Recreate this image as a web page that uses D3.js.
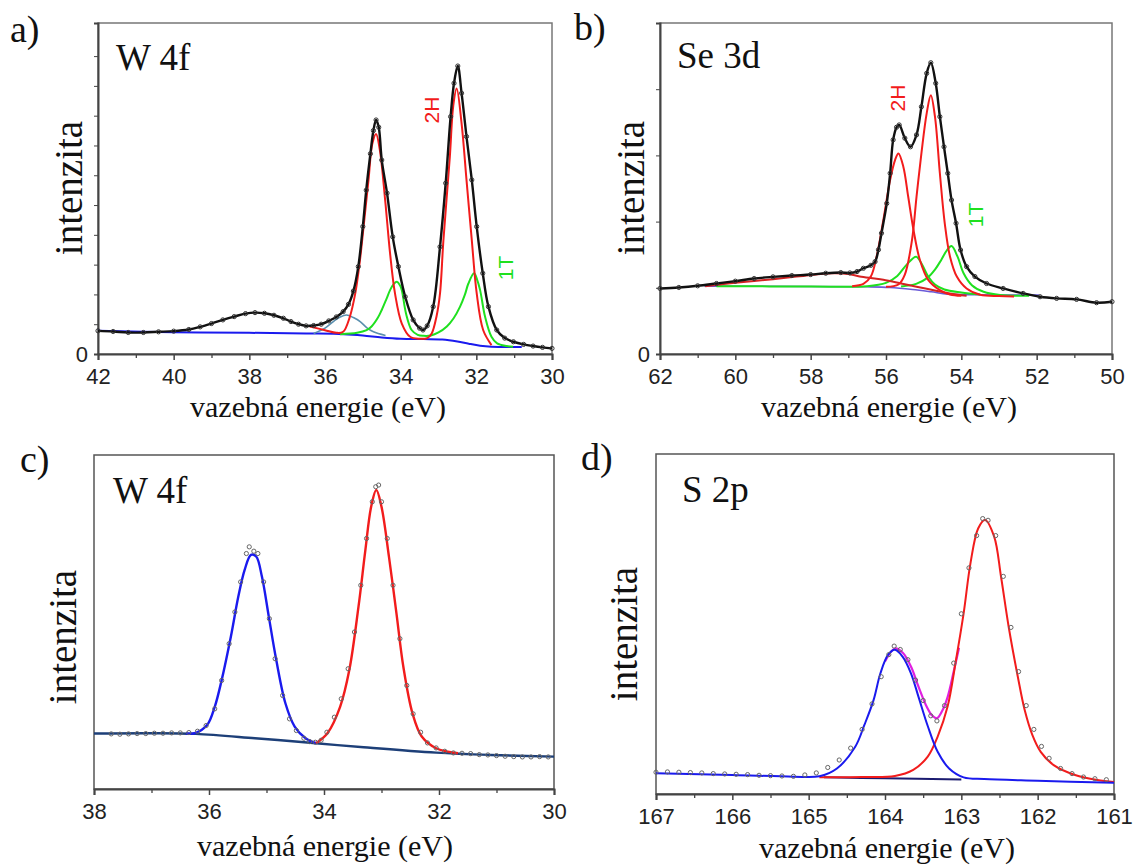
<!DOCTYPE html>
<html><head><meta charset="utf-8">
<script src="https://cdn.jsdelivr.net/npm/d3@7"></script>
<style>body{margin:0;background:#fff}svg{display:block}</style>
</head><body><svg id="c" width="1135" height="867"></svg>
<script>
// ---------- DATA (binding energy eV, intensity in % of plot height) ----------
const aTicks = [42,40,38,36,34,32,30];
const bTicks = [62,60,58,56,54,52,50];
const cTicks = [38,36,34,32,30];
const dTicks = [167,166,165,164,163,162,161];

// a) W 4f
const aTotal = [[42.0,7.0],[41.6,6.8],[41.2,6.5],[40.8,6.5],[40.4,6.7],[40.0,6.9],[39.6,7.4],[39.3,8.2],[39.0,9.2],[38.7,10.3],[38.4,11.3],[38.1,12.2],[37.85,12.5],[37.6,12.3],[37.35,11.7],[37.1,10.8],[36.9,9.8],[36.7,9.0],[36.5,8.5],[36.3,8.6],[36.1,9.0],[35.9,10.0],[35.7,11.2],[35.52,12.8],[35.38,15.0],[35.25,19.0],[35.12,26.4],[35.0,38.5],[34.91,49.5],[34.8,60.5],[34.72,67.5],[34.65,70.7],[34.58,68.5],[34.5,58.6],[34.36,48.6],[34.21,35.4],[34.06,26.4],[33.88,17.3],[33.67,10.3],[33.5,7.8],[33.41,7.25],[33.3,8.5],[33.14,14.3],[32.96,32.4],[32.81,51.6],[32.68,71.7],[32.59,81.8],[32.49,87.0],[32.39,78.8],[32.26,65.7],[32.12,52.6],[31.99,38.5],[31.83,24.4],[31.68,14.3],[31.46,7.25],[31.25,4.8],[31.02,3.7],[30.75,2.9],[30.5,2.4],[30.25,2.0],[30.0,1.7]];
const aBackground = [[42.0,7.0],[40.0,6.6],[38.0,6.4],[36.5,6.2],[35.5,6.0],[35.0,5.6],[34.5,5.0],[34.0,4.6],[33.4,4.5],[32.9,4.4],[32.5,3.8],[32.2,3.1],[31.9,2.5],[31.6,2.2],[31.0,2.1],[30.8,2.1]];
const a2H = [[36.4,8.3],[36.0,7.2],[35.7,6.4],[35.52,6.7],[35.35,11],[35.2,18.3],[35.08,28],[34.98,38.5],[34.85,52.6],[34.75,63.5],[34.65,66.5],[34.55,61.6],[34.41,46.5],[34.28,30.4],[34.15,18.3],[33.97,9.2],[33.75,5.2],[33.5,4.6],[33.3,4.8],[33.18,6.2],[33.05,11.5],[32.96,18.3],[32.87,34.4],[32.7,59.6],[32.61,75],[32.52,80.2],[32.39,69.7],[32.26,52.6],[32.12,34.4],[31.99,18.3],[31.82,7.25],[31.6,2.7]];
const a1T = [[35.6,6.0],[35.15,6.4],[34.9,7.2],[34.77,8.3],[34.6,11],[34.5,13.3],[34.38,16.5],[34.28,19.3],[34.18,21.2],[34.1,21.8],[34.02,20.8],[33.97,19.3],[33.86,12.3],[33.71,7.25],[33.55,5.8],[33.4,5.5],[33.2,5.6],[33.0,6.5],[32.78,8.3],[32.6,10.8],[32.43,14.3],[32.3,18],[32.21,21.3],[32.06,24.4],[31.98,22.5],[31.9,19.3],[31.77,11.3],[31.6,5.2],[31.45,3.2],[31.2,2.4],[31.03,2.2]];
const aOther = [[36.3,6.2],[36.0,7.8],[35.78,9.8],[35.6,11.2],[35.43,11.8],[35.25,11.0],[35.07,9.8],[34.9,8.0],[34.72,6.7],[34.4,5.6]];

// b) Se 3d
const bTotal = [[62.0,19.8],[61.5,20.1],[61.0,20.6],[60.5,21.3],[60.0,22.0],[59.5,22.8],[59.0,23.3],[58.5,23.7],[58.0,24.0],[57.6,24.4],[57.2,24.6],[56.96,24.5],[56.77,24.9],[56.6,25.9],[56.4,26.8],[56.29,27.9],[56.2,31.5],[56.12,36.5],[55.98,45.5],[55.89,54.6],[55.81,64.7],[55.72,68.5],[55.65,69.2],[55.5,65.2],[55.35,62.6],[55.19,66.2],[55.06,74.7],[54.92,84.8],[54.81,88.0],[54.68,81.8],[54.57,71.7],[54.46,62.6],[54.36,54.6],[54.26,46.5],[54.14,39.5],[54.02,31.4],[53.86,26.4],[53.64,23.4],[53.33,21.3],[52.89,19.8],[52.36,18.3],[51.91,17.3],[51.47,16.8],[50.94,16.5],[50.41,15.5],[50.0,15.8]];
const bBackground = [[60.82,20.5],[58.0,20.4],[56.5,20.3],[55.9,20.1],[55.3,19.5],[54.8,18.8],[54.35,18.1],[53.5,17.9],[52.5,17.8],[51.94,17.8]];
const bBroad = [[60.8,20.5],[60.0,21.5],[59.0,22.6],[58.2,23.6],[57.44,24.4],[57.0,24.2],[56.7,23.4],[56.3,22.8],[56.07,22.4],[55.6,21.3],[55.19,20.3],[54.7,19.2],[54.3,18.3],[53.86,17.6]];
const b2H_1 = [[56.9,20.5],[56.6,21.2],[56.4,23.5],[56.25,29.4],[56.07,40.5],[55.89,52.6],[55.76,58.6],[55.67,60.6],[55.54,56.6],[55.41,47.5],[55.27,37.5],[55.1,28.4],[54.88,22.4],[54.57,19.3],[54.3,18.0],[54.0,17.6]];
const b2H_2 = [[56.0,20.3],[55.67,21.0],[55.5,24],[55.31,34.4],[55.19,47.5],[55.06,60.6],[54.92,72.7],[54.81,78.2],[54.7,71.7],[54.57,54.6],[54.44,39.5],[54.3,29.4],[54.12,23.4],[53.86,19.8],[53.5,17.9],[53.0,17.5],[52.6,17.4]];
const b1T_1 = [[60.5,20.5],[58.0,20.4],[56.5,20.5],[56.0,21.5],[55.7,23.6],[55.45,27],[55.2,29.4],[55.05,27.2],[54.88,23.4],[54.7,21.0],[54.45,19.5],[54.0,18.6],[53.5,18.0]];
const b1T_2 = [[55.6,20.4],[55.2,21.2],[54.9,23.0],[54.7,25.5],[54.53,28.5],[54.38,31.4],[54.26,32.6],[54.1,29.4],[53.94,24.4],[53.72,20.8],[53.41,18.8],[52.97,17.8],[52.2,17.6]];

// c) W 4f
const cBackground = [[38,16.6],[37,16.7],[36.23,16.5],[35.2,15.2],[34.14,13.7],[33.31,12.5],[32.05,10.9],[31.1,10.2],[30,9.7]];
const cBlue = [[36.4,16.6],[36.23,16.8],[36.03,19.2],[35.9,24.6],[35.78,32.6],[35.62,45.6],[35.49,57.6],[35.38,65.6],[35.27,70.1],[35.18,69.6],[35.08,63.6],[34.96,51.6],[34.83,38.6],[34.67,25.6],[34.51,18.7],[34.32,15.2],[34.14,13.7]];
const cRed = [[34.14,13.7],[33.94,16.7],[33.72,24.6],[33.56,35.6],[33.4,54.6],[33.28,71.6],[33.18,84.5],[33.09,89.5],[33.0,84.5],[32.87,69.5],[32.74,52.6],[32.62,36.6],[32.46,22.6],[32.3,15.7],[32.05,12.2],[31.67,10.7]];
const cMeasured = [[37.7,16.5],[37.55,16.4],[37.4,16.5],[37.25,16.6],[37.1,16.6],[36.95,16.7],[36.8,16.7],[36.65,16.8],[36.5,16.8],[36.35,16.9],[36.2,17.3],[36.05,19.0],[35.9,24.0],[35.78,32.5],[35.65,43.5],[35.55,53],[35.45,62],[35.35,70.5],[35.3,72.5],[35.22,71.2],[35.15,70.5],[35.05,62],[34.95,51],[34.85,39],[34.72,28],[34.6,21],[34.48,17.5],[34.35,15.2],[34.25,14.2],[34.15,14.0],[34.05,14.6],[33.95,17.0],[33.82,21.5],[33.7,27],[33.58,36],[33.47,47],[33.36,61],[33.26,75],[33.16,86],[33.1,90.5],[33.05,91],[33.0,86],[32.9,75],[32.8,61],[32.68,45],[32.56,31],[32.45,22.5],[32.32,17],[32.2,13.8],[32.05,12.3],[31.9,11.3],[31.75,10.8],[31.6,10.7],[31.45,10.6],[31.3,10.3],[31.15,10.2],[31.0,10.0],[30.85,9.8],[30.7,9.7],[30.55,9.6],[30.4,9.6],[30.25,9.7],[30.1,9.6]];

// d) S 2p
const dBackground = [[164.8,4.9],[164,4.6],[163,4.3]];
const dBlue = [[167,6.1],[166,5.6],[165.2,5.1],[164.86,5.2],[164.63,7.5],[164.39,13.9],[164.27,20.3],[164.15,27.6],[164.06,35.5],[163.96,40.9],[163.87,42.4],[163.77,40.4],[163.66,35.5],[163.56,28.5],[163.44,20.0],[163.31,12.4],[163.16,7.5],[162.97,4.9],[162.7,4.4],[162,3.9],[161,3.3]];
const dRed = [[164.86,4.9],[164.3,5.0],[163.87,5.3],[163.63,7.1],[163.44,11.0],[163.31,16.9],[163.18,25.7],[163.07,39.4],[162.97,53.1],[162.88,67.9],[162.78,78.1],[162.69,80.6],[162.57,75.7],[162.48,63.9],[162.38,49.2],[162.26,34.5],[162.17,24.7],[162.07,17.4],[161.96,12.4],[161.79,8.5],[161.51,5.6],[161.22,4.1],[161.0,3.5]];
const dEnvelope = [[164.0,39],[163.87,42.8],[163.77,41.6],[163.66,37.5],[163.56,31.5],[163.45,25.5],[163.38,23],[163.32,22.3],[163.25,24.5],[163.18,28.5],[163.1,36],[163.03,43]];
const dMeasured = [[167,6.4],[166.85,6.5],[166.7,6.4],[166.55,6.3],[166.4,6.2],[166.25,6.0],[166.1,5.9],[165.95,5.8],[165.8,5.7],[165.65,5.5],[165.5,5.4],[165.35,5.3],[165.2,5.2],[165.05,5.6],[164.9,6.2],[164.75,7.8],[164.6,10],[164.45,13.5],[164.3,19],[164.17,26.5],[164.05,34.5],[163.95,41],[163.88,43.5],[163.8,42.5],[163.7,39.5],[163.6,33.5],[163.5,27.5],[163.4,23],[163.32,21.5],[163.22,26],[163.1,38.5],[163.0,53],[162.9,66.5],[162.8,76],[162.72,81],[162.65,80.5],[162.55,76],[162.45,64],[162.35,49],[162.25,36],[162.15,26],[162.05,19],[161.95,14],[161.85,10.5],[161.7,7.5],[161.55,6],[161.4,5],[161.25,4.5],[161.1,4.2]];

// ---------- DRAWING ----------
const svg = d3.select("#c");
svg.append("rect").attr("width",1135).attr("height",867).attr("fill","#fff");
const SERIF = "'Liberation Serif','DejaVu Serif',serif";
const SANS = "'Liberation Sans',Arial,sans-serif";
const RED="#f21c1c", GREEN="#1fe01f", BLUE="#1a1aee";

function panel(p){
  const g = svg.append("g");
  const x = d3.scaleLinear().domain(p.xDomain).range([p.left,p.right]);
  const y = d3.scaleLinear().domain([0,100]).range([p.bottom,p.top]);
  const line = d3.line().x(d=>x(d[0])).y(d=>y(d[1])).curve(d3.curveCatmullRom.alpha(0.5));
  g.append("rect").attr("x",p.left).attr("y",p.top).attr("width",p.right-p.left).attr("height",p.bottom-p.top)
    .attr("fill","none").attr("stroke",p.frameColor).attr("stroke-width",1.5);
  const ax = g.append("g").attr("transform",`translate(0,${p.bottom})`)
    .call(d3.axisBottom(x).tickValues(p.ticks).tickSize(6).tickPadding(8).tickFormat(d3.format("d")));
  ax.select(".domain").attr("stroke","#444").attr("stroke-width",2);
  ax.selectAll(".tick line").attr("stroke","#444").attr("stroke-width",1.5);
  ax.selectAll(".tick text").attr("font-family",SANS).attr("font-size",22).attr("fill","#222");
  const minor = p.ticks.slice(1).map((t,i)=>(t+p.ticks[i])/2);
  g.append("g").attr("transform",`translate(0,${p.bottom})`)
    .call(d3.axisBottom(x).tickValues(minor).tickSize(4).tickFormat(""))
    .call(s=>{s.select(".domain").remove(); s.selectAll("line").attr("stroke","#444").attr("stroke-width",1.3);});
  if(p.yTicks){
    const ay = g.append("g").attr("transform",`translate(${p.left},0)`)
      .call(d3.axisLeft(y).tickValues(p.yTicks).tickSize(4).tickPadding(6).tickFormat(d=>d===0?"0":""));
    ay.select(".domain").attr("stroke","#444").attr("stroke-width",2);
    ay.selectAll("line").attr("stroke","#444");
    ay.selectAll("text").attr("font-family",SANS).attr("font-size",22).attr("fill","#222");
  }
  p.series.forEach(s=>{
    g.append("path").datum(s.data).attr("d",line).attr("fill","none")
      .attr("stroke",s.color).attr("stroke-width",s.w||2).attr("stroke-linejoin","round");
  });
  if(p.markers){
    g.append("g").selectAll("circle").data(p.markers).join("circle")
      .attr("cx",d=>x(d[0])).attr("cy",d=>y(d[1])).attr("r",2.1)
      .attr("fill","none").attr("stroke",p.markerColor||"#333").attr("stroke-width",1);
  }
  svg.append("text").attr("x",p.tag[1]).attr("y",p.tag[2]).text(p.tag[0])
    .attr("font-family",SERIF).attr("font-size",38).attr("fill","#111");
  svg.append("text").attr("x",p.title[1]).attr("y",p.title[2]).text(p.title[0])
    .attr("font-family",SERIF).attr("font-size",37).attr("fill","#111");
  svg.append("text").attr("transform",`translate(${p.ylab[0]},${p.ylab[1]}) rotate(-90)`)
    .attr("text-anchor","middle").text("intenzita")
    .attr("font-family",SERIF).attr("font-size",39).attr("fill","#111");
  svg.append("text").attr("x",p.xlab[0]).attr("y",p.xlab[1]).attr("text-anchor","middle")
    .text("vazebná energie (eV)").attr("font-family",SERIF).attr("font-size",30).attr("fill","#111");
  (p.labels||[]).forEach(l=>{
    svg.append("text").attr("transform",`translate(${l.x},${l.y}) rotate(-90)`).attr("text-anchor","middle")
      .attr("dominant-baseline","central").text(l.t).attr("fill",l.c)
      .attr("font-family",SANS).attr("font-size",21);
  });
}

panel({left:98,right:552,top:23,bottom:354,xDomain:[42,30],ticks:aTicks,frameColor:"#777",
  yTicks:[0,9,18,27,36,45,54,63,72,81,90],
  tag:["a)",10,42],title:["W 4f",116,70],ylab:[82,188],xlab:[318,417],
  series:[{data:aBackground,color:BLUE,w:2},{data:aOther,color:"#5a8fae",w:1.6},
          {data:a1T,color:GREEN,w:2},{data:a2H,color:RED,w:2},{data:aTotal,color:"#111",w:2.4}],
  markers:aTotal,
  labels:[{t:"2H",x:431,y:110,c:RED},{t:"1T",x:505,y:268,c:GREEN}]});

panel({left:660,right:1112,top:23,bottom:354,xDomain:[62,50],ticks:bTicks,frameColor:"#777",
  yTicks:[0,20,40,60,80],
  tag:["b)",574,40],title:["Se 3d",677,68],ylab:[644,188],xlab:[889,417],
  series:[{data:bBackground,color:"#6a5ad8",w:1.6},{data:b1T_1,color:GREEN,w:2},{data:b1T_2,color:GREEN,w:2},
          {data:bBroad,color:"#d42222",w:2},{data:b2H_1,color:RED,w:2},{data:b2H_2,color:RED,w:2},
          {data:bTotal,color:"#111",w:2.4}],
  markers:bTotal,
  labels:[{t:"2H",x:897,y:98,c:RED},{t:"1T",x:975,y:215,c:GREEN}]});

panel({left:94,right:554,top:455,bottom:789,xDomain:[38,30],ticks:cTicks,frameColor:"#555",
  tag:["c)",20,472],title:["W 4f",113,503],ylab:[76,637],xlab:[325,856],
  series:[{data:cBackground,color:"#1d3f78",w:2.4},{data:cBlue,color:BLUE,w:2.4},{data:cRed,color:RED,w:2.4}],
  markers:cMeasured,markerColor:"#666"});

panel({left:656,right:1114,top:454,bottom:794,xDomain:[167,161],ticks:dTicks,frameColor:"#555",
  tag:["d)",581,470],title:["S 2p",682,502],ylab:[637,634],xlab:[887,858],
  series:[{data:dBackground,color:"#1b1b70",w:2},{data:dEnvelope,color:"#e020e0",w:2.2},
          {data:dRed,color:RED,w:2},{data:dBlue,color:BLUE,w:2}],
  markers:dMeasured,markerColor:"#666"});
</script></body></html>
